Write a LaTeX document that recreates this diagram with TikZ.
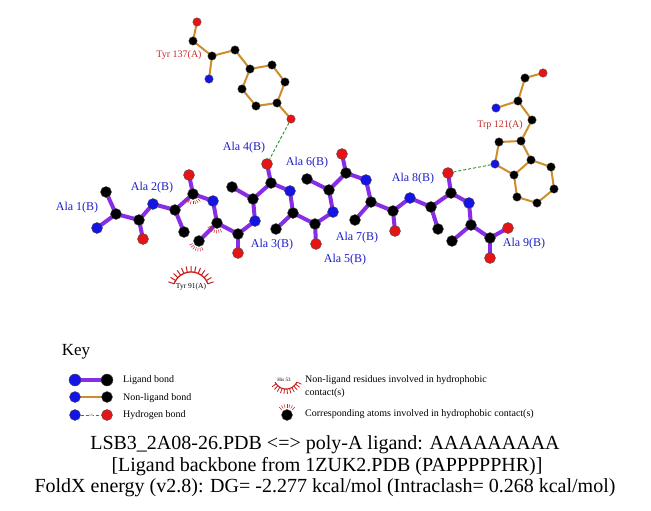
\documentclass[tikz,border=0pt]{standalone}
\usepackage{fontspec}
\setmainfont{Liberation Serif}
\usetikzlibrary{backgrounds}
\definecolor{ligc}{RGB}{135,45,230}
\definecolor{nonlig}{RGB}{205,140,45}
\definecolor{atomN}{RGB}{20,20,230}
\definecolor{atomO}{RGB}{230,20,20}
\definecolor{hbc}{RGB}{40,140,40}
\definecolor{labB}{RGB}{30,30,200}
\definecolor{labR}{RGB}{200,40,40}
\definecolor{hydc}{RGB}{200,30,30}
\begin{document}
\begin{tikzpicture}[x=1pt,y=-1pt,
 atom/.style={circle,inner sep=0pt,minimum size=11pt,draw=black!70,line width=0.4pt},
 lC/.style={atom,fill=black},
 lN/.style={atom,fill=atomN},
 lO/.style={atom,fill=atomO},
 patom/.style={circle,inner sep=0pt,minimum size=8.5pt,draw=black!70,line width=0.3pt},
 pC/.style={patom,fill=black},
 pN/.style={patom,fill=atomN},
 pO/.style={patom,fill=atomO},
 lb/.style={ligc,line width=4pt},
 nb/.style={nonlig,line width=2pt},
 hb/.style={hbc,line width=0.9pt,dash pattern=on 3pt off 2pt},
 ligl/.style={text=labB,font=\fontsize{12}{14}\selectfont,inner sep=0pt},
 resl/.style={text=labR,font=\fontsize{10}{12}\selectfont,inner sep=0pt},
 hydl/.style={hydc,line width=0.5pt},
 hydarc/.style={hydc,line width=1.3pt},
 keyt/.style={font=\fontsize{10}{12}\selectfont,anchor=west,inner sep=0pt},
 keyr/.style={font=\fontsize{10}{12}\selectfont,anchor=west,inner sep=0pt},
 titl/.style={font=\fontsize{20}{22}\selectfont,inner sep=0pt}
]
\useasboundingbox (0,0) rectangle (651,511);

% ---------- ligand atoms ----------
\node[lN] (n1) at (97,228) {};
\node[lC] (ca1) at (116,214) {};
\node[lC] (cb1) at (106,192) {};
\node[lC] (c1) at (139,220) {};
\node[lO] (o1) at (143,239) {};
\node[lN] (n2) at (153,204) {};
\node[lC] (ca2) at (175,210) {};
\node[lC] (cb2) at (184,232) {};
\node[lC] (c2) at (193,194) {};
\node[lO] (o2) at (189,175) {};
\node[lN] (n3) at (213,201) {};
\node[lC] (ca3) at (217,223) {};
\node[lC] (cb3) at (199,241) {};
\node[lC] (c3) at (238,234) {};
\node[lO] (o3) at (238,253) {};
\node[lN] (n4) at (255,221) {};
\node[lC] (ca4) at (253,199) {};
\node[lC] (cb4) at (232,187) {};
\node[lC] (c4) at (271,183) {};
\node[lO] (o4) at (267,164) {};
\node[lN] (n5) at (290,191) {};
\node[lC] (ca5) at (293,213) {};
\node[lC] (cb5) at (276,229) {};
\node[lC] (c5) at (315,224) {};
\node[lO] (o5) at (316,244) {};
\node[lN] (n6) at (333,212) {};
\node[lC] (ca6) at (329,190) {};
\node[lC] (cb6) at (307,179) {};
\node[lC] (c6) at (346,173) {};
\node[lO] (o6) at (342,154) {};
\node[lN] (n7) at (366,180) {};
\node[lC] (ca7) at (371,202) {};
\node[lC] (cb7) at (355,220) {};
\node[lC] (c7) at (393,211) {};
\node[lO] (o7) at (395,231) {};
\node[lN] (n8) at (410,198) {};
\node[lC] (ca8) at (431,207) {};
\node[lC] (cb8) at (438,229) {};
\node[lC] (c8) at (451,193) {};
\node[lO] (o8) at (448,173) {};
\node[lN] (n9) at (469,203) {};
\node[lC] (ca9) at (471,225) {};
\node[lC] (cb9) at (452,241) {};
\node[lC] (c9) at (490,238) {};
\node[lO] (o9a) at (508,228) {};
\node[lO] (o9b) at (490,258) {};

% ---------- Tyr 137 ----------
\node[pO] (yo) at (197,22) {};
\node[pC] (yc) at (193,41) {};
\node[pC] (yca) at (212,56) {};
\node[pN] (yn) at (209,79) {};
\node[pC] (ycb) at (235,50) {};
\node[pC] (ycg) at (250,69) {};
\node[pC] (ycd1) at (272,65) {};
\node[pC] (yce1) at (285,82) {};
\node[pC] (ycz) at (277,103) {};
\node[pC] (yce2) at (256,106) {};
\node[pC] (ycd2) at (242,89) {};
\node[pO] (yoh) at (291,119) {};

% ---------- Trp 121 ----------
\node[pO] (wo) at (543,73) {};
\node[pC] (wc) at (525,78) {};
\node[pC] (wca) at (518,101) {};
\node[pN] (wn) at (496,108) {};
\node[pC] (wcb) at (532,120) {};
\node[pC] (wcg) at (521,141) {};
\node[pC] (wcd1) at (499,142) {};
\node[pN] (wne1) at (495,164) {};
\node[pC] (wce2) at (514,175) {};
\node[pC] (wcd2) at (531,160) {};
\node[pC] (wce3) at (551,167) {};
\node[pC] (wcz3) at (554,189) {};
\node[pC] (wch2) at (537,203) {};
\node[pC] (wcz2) at (517,197) {};

% ---------- bonds ----------
\begin{scope}[on background layer]
\foreach \a/\b in {n1/ca1,ca1/cb1,ca1/c1,c1/o1,c1/n2,n2/ca2,ca2/cb2,ca2/c2,c2/o2,c2/n3,
 n3/ca3,ca3/cb3,ca3/c3,c3/o3,c3/n4,n4/ca4,ca4/cb4,ca4/c4,c4/o4,c4/n5,n5/ca5,ca5/cb5,ca5/c5,
 c5/o5,c5/n6,n6/ca6,ca6/cb6,ca6/c6,c6/o6,c6/n7,n7/ca7,ca7/cb7,ca7/c7,c7/o7,c7/n8,n8/ca8,
 ca8/cb8,ca8/c8,c8/o8,c8/n9,n9/ca9,ca9/cb9,ca9/c9,c9/o9a,c9/o9b}
  \draw[lb] (\a.center) -- (\b.center);
\foreach \a/\b in {yo/yc,yc/yca,yca/yn,yca/ycb,ycb/ycg,ycg/ycd1,ycd1/yce1,yce1/ycz,ycz/yce2,
 yce2/ycd2,ycd2/ycg,ycz/yoh,
 wo/wc,wc/wca,wca/wn,wca/wcb,wcb/wcg,wcg/wcd1,wcd1/wne1,wne1/wce2,wce2/wcd2,wcd2/wcg,
 wcd2/wce3,wce3/wcz3,wcz3/wch2,wch2/wcz2,wcz2/wce2}
  \draw[nb] (\a.center) -- (\b.center);
\end{scope}

% ---------- hydrogen bonds ----------
\draw[hb] (yoh) -- (o4);
\draw[hb] (wne1) -- (o8);

% ---------- hydrophobic marks on ligand atoms ----------
\foreach \n/\d in {c2/90,ca3/108,cb3/112}
  \foreach \o in {-45,-30,...,45}
    \draw[hydl] (\n.center) ++(\d+\o:6.8) -- ++(\d+\o:3.6);

% ---------- Tyr 91 hydrophobic residue ----------
\coordinate (t91c) at (191,290);
\draw[hydarc] plot[domain=200:340,samples=30] ({191+18*cos(\x)},{290+18*sin(\x)});
\foreach \a in {200,211.67,...,341}
  \draw[hydc,line width=1pt] (t91c) ++(\a:18) -- ++(\a:6);
\node[font=\fontsize{7.5}{9}\selectfont,inner sep=0pt] (t91) at (191,287) {Tyr 91(A)};

% ---------- labels ----------
\node[ligl] (l1) at (77,208) {Ala 1(B)};
\node[ligl] (l2) at (152,188) {Ala 2(B)};
\node[ligl] (l3) at (272,245) {Ala 3(B)};
\node[ligl] (l4) at (244,148) {Ala 4(B)};
\node[ligl] (l5) at (345,260) {Ala 5(B)};
\node[ligl] (l6) at (307,163) {Ala 6(B)};
\node[ligl] (l7) at (357,238) {Ala 7(B)};
\node[ligl] (l8) at (413,179) {Ala 8(B)};
\node[ligl] (l9) at (524,244) {Ala 9(B)};
\node[resl] (ly137) at (179,55) {Tyr 137(A)};
\node[resl] (lw121) at (500,125) {Trp 121(A)};

% ---------- key ----------
\node[font=\fontsize{17}{20}\selectfont,inner sep=0pt] (key) at (76,352) {Key};
\node[atom,fill=atomN,minimum size=12pt] (k1a) at (75,380) {};
\node[atom,fill=black,minimum size=12pt] (k1b) at (107,380) {};
\node[lN] (k2a) at (75,397) {};
\node[lC] (k2b) at (107,397) {};
\node[lN] (k3a) at (75,415) {};
\node[lO] (k3b) at (107,415) {};
\begin{scope}[on background layer]
\draw[lb] (k1a.center) -- (k1b.center);
\draw[nb] (k2a.center) -- (k2b.center);
\end{scope}
\draw[hb] (k3a) -- (k3b) node[midway,fill=white,inner sep=0.3pt,text=hbc,font=\fontsize{3.5}{4}\selectfont] {3.0};
\node[keyt] (kt1) at (123,380) {Ligand bond};
\node[keyt] (kt2) at (123,398) {Non-ligand bond};
\node[keyt] (kt3) at (123,415) {Hydrogen bond};

\coordinate (khc) at (286,377);
\node[font=\fontsize{5}{6}\selectfont,inner sep=0pt] (khis) at (284,380) {His 53};
\draw[hydc,line width=1.1pt] plot[domain=25:155,samples=20] ({286+12*cos(\x)},{377+12*sin(\x)});
\foreach \a in {25,37,...,156}
  \draw[hydc,line width=0.8pt] (khc) ++(\a:12) -- ++(\a:5);
\node[keyr] (kr1) at (305,380) {Non-ligand residues involved in hydrophobic};
\node[keyr] (kr1b) at (305,393) {contact(s)};
\node[lC,minimum size=11pt] (khat) at (287,415) {};
\foreach \o in {-45,-30,...,45}
  \draw[hydl] (khat.center) ++(270+\o:7.5) -- ++(270+\o:3.5);
\node[keyr] (kr2) at (305,414) {Corresponding atoms involved in hydrophobic contact(s)};

% ---------- title ----------
\node[titl] (t1) at (325,445) {LSB3\_2A08-26.PDB <=> poly-A ligand: AAAAAAAAA};
\node[titl] (t2) at (327,467) {[Ligand backbone from 1ZUK2.PDB (PAPPPPPHR)]};
\node[titl] (t3) at (325,488) {FoldX energy (v2.8): DG= -2.277 kcal/mol (Intraclash= 0.268 kcal/mol)};
\end{tikzpicture}
\end{document}
